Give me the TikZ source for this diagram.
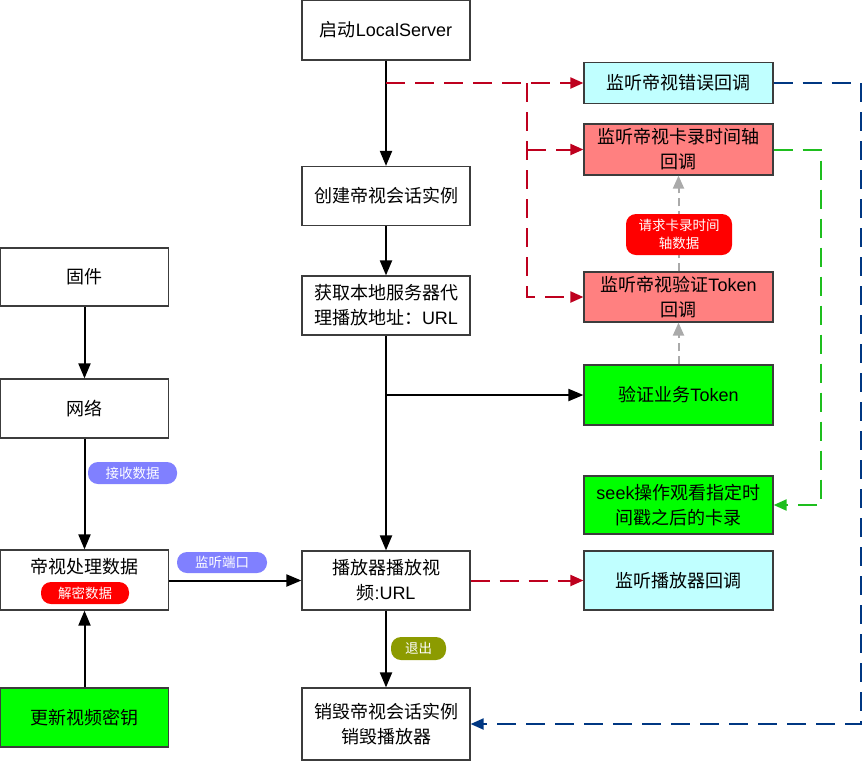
\documentclass[tikz,border=0pt]{standalone}
\usepackage{fontspec}
\setmainfont{Noto Sans CJK SC}
\newfontfamily\latinfont{Liberation Sans}
\newcommand{\lat}[1]{{\latinfont #1}}
\usepackage{xcolor}
\usepackage{tikz}
\usetikzlibrary{arrows.meta}

\definecolor{boxline}{RGB}{60,60,60}
\definecolor{cbcyan}{RGB}{192,255,255}
\definecolor{cbpink}{RGB}{255,128,128}
\definecolor{cbgreen}{RGB}{0,255,0}
\definecolor{tagblue}{RGB}{128,128,255}
\definecolor{tagolive}{RGB}{140,155,0}
\definecolor{dashred}{RGB}{190,0,30}
\definecolor{dashblue}{RGB}{0,55,130}
\definecolor{dashgreen}{RGB}{30,190,30}
\definecolor{dashgray}{RGB}{170,170,170}

\begin{document}
\begin{tikzpicture}[x=1pt, y=-1pt,
    every node/.style={font=\fontsize{18}{25}\selectfont},
    box/.style={draw=boxline, line width=1.2pt, rectangle, align=center, inner sep=0pt, minimum width=168pt, minimum height=59pt},
    cbbox/.style={box, minimum width=189pt},
    tag/.style={rectangle, rounded corners=10pt, text=white, align=center, inner sep=0pt, font=\fontsize{13.5}{18}\selectfont},
    flow/.style={line width=2pt, -{Triangle[length=15pt, width=12pt]}},
    dashflow/.style={line width=2pt, dash pattern=on 19pt off 10pt, -{Triangle[length=13pt, width=11pt]}},
    reddash/.style={dashflow, draw=dashred},
    bluedash/.style={dashflow, draw=dashblue},
    greendash/.style={dashflow, draw=dashgreen},
    graydash/.style={dashflow, draw=dashgray, dash pattern=on 8pt off 5pt}]
    \useasboundingbox (0,0) rectangle (864,761);

    % Left column
    \node[box, minimum height=58pt] (firmware) at (84.5,277) {固件};
    \node[box] (network) at (84.5,408.5) {网络};
    \node[box, minimum height=60pt] (process) at (84.5,580) {};
    \node (process-title) at (84.5,567) {帝视处理数据};
    \node[tag, fill=red, minimum width=88pt, minimum height=22pt] (decrypt) at (85,593) {解密数据};
    \node[box, fill=cbgreen] (keyupd) at (84.5,717.5) {更新视频密钥};

    % Main column
    \node[box, minimum height=60pt] (start) at (386,30) {启动\lat{LocalServer}};
    \node[box] (create) at (386,196) {创建帝视会话实例};
    \node[box] (getUrl) at (386,305.5) {获取本地服务器代\\理播放地址：\lat{URL}};
    \node[box] (play) at (386,580.5) {播放器播放视\\频\lat{:URL}};
    \node[box, minimum height=72pt] (destroy) at (386,724) {销毁帝视会话实例\\销毁播放器};

    % Callbacks
    \node[cbbox, fill=cbcyan, minimum height=41pt] (errcb) at (678.5,83) {监听帝视错误回调};
    \node[cbbox, fill=cbpink, minimum height=51pt] (timecb) at (678.5,149.5) {监听帝视卡录时间轴\\回调};
    \node[cbbox, fill=cbpink, minimum height=50pt] (tokencb) at (678.5,297) {监听帝视验证\lat{Token}\\回调};
    \node[cbbox, fill=cbgreen, minimum height=60pt] (token) at (678.5,395) {验证业务\lat{Token}};
    \node[cbbox, fill=cbgreen, minimum height=58pt] (seek) at (678.5,505) {\lat{seek}操作观看指定时\\间戳之后的卡录};
    \node[cbbox, fill=cbcyan] (playcb) at (678.5,580.5) {监听播放器回调};

    % Solid flow
    \draw[flow] (firmware) -- (network);
    \draw[flow] (network) -- (process);
    \draw[flow] (keyupd) -- (process);
    \draw[flow] (process.east |- play.west) -- (play);
    \draw[flow] (start) -- (create);
    \draw[flow] (create) -- (getUrl);
    \draw[flow] (getUrl) -- (play);
    \draw[flow] (play) -- (destroy);
    \coordinate (tokfork) at (getUrl.south |- token.west);
    \draw[flow] (tokfork) -- (token);

    % Dashed callbacks
    \coordinate (errfork) at (start.south |- errcb.west);
    \coordinate (redbus) at (527,83);
    \draw[reddash] (errfork) -- (errcb);
    \draw[reddash] (redbus) |- (tokencb);
    \draw[reddash] (redbus |- timecb.west) -- (timecb);
    \draw[reddash] (play) -- (playcb);
    \draw[graydash] (token) -- (tokencb);
    \draw[graydash] (tokencb) -- (timecb);
    \draw[greendash] (timecb.east) -- ++(47,0) |- (seek.east);
    \draw[bluedash] (errcb.east) -- ++(87,0) |- (destroy.east);

    % Labels
    \node[tag, fill=tagblue, minimum width=89pt, minimum height=22pt] (recv) at (132.5,473) {接收数据};
    \node[tag, fill=tagblue, minimum width=90pt, minimum height=21pt] (port) at (222,562.5) {监听端口};
    \node[tag, fill=tagolive, minimum width=55pt, minimum height=23pt] (quit) at (418.5,648.5) {退出};
    \node[tag, fill=red, minimum width=106pt, minimum height=41pt] (request) at (679,234.5) {请求卡录时间\\轴数据};
\end{tikzpicture}
\end{document}
